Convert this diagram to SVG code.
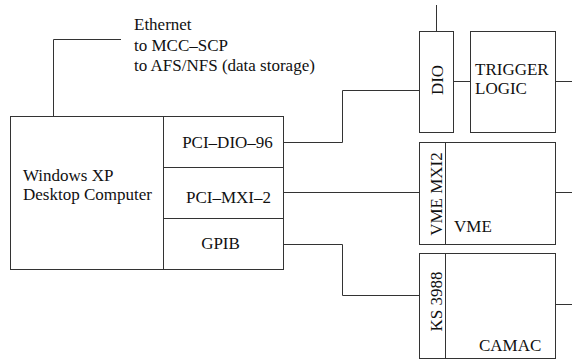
<svg xmlns="http://www.w3.org/2000/svg" width="572" height="363" viewBox="0 0 572 363">
<style>
.box{fill:#fff;stroke:#333;stroke-width:1}
.ln{fill:none;stroke:#333;stroke-width:1}
text{font-family:"Liberation Serif","Times New Roman",serif;font-size:17px;fill:#111}
</style>
<rect width="572" height="363" fill="#fff"/>
<g id="connectors">
<path class="ln" d="M53.5 116.5V39.5H121"/>
<path class="ln" d="M283.5 142.5H342.5V90.5H419.5"/>
<path class="ln" d="M283.5 192.5H419.5"/>
<path class="ln" d="M283.5 244.5H342.5V295.5H419.5"/>
<path class="ln" d="M436.5 5V31.5"/>
<path class="ln" d="M453.5 81.5H470.5"/>
<path class="ln" d="M555.5 81.5H572"/>
<path class="ln" d="M555.5 192.5H572"/>
<path class="ln" d="M555.5 304.5H572"/>
</g>
<g id="ethernet">
<text x="134" y="30">Ethernet</text>
<text x="134" y="50.5">to MCC–SCP</text>
<text x="134" y="71">to AFS/NFS (data storage)</text>
</g>
<g id="computer">
<rect class="box" x="10.5" y="116.5" width="273" height="153"/>
<path class="ln" d="M163.5 116.5V269.5M163.5 167.5H283.5M163.5 218.5H283.5"/>
<text x="23" y="181">Windows XP</text>
<text x="23" y="199.5">Desktop Computer</text>
</g>
<g id="pci-dio-96"><text x="227.5" y="147.5" text-anchor="middle">PCI–DIO–96</text></g>
<g id="pci-mxi-2"><text x="228.5" y="202.5" text-anchor="middle">PCI–MXI–2</text></g>
<g id="gpib"><text x="220.5" y="248.5" text-anchor="middle">GPIB</text></g>
<g id="dio">
<rect class="box" x="419.5" y="31.5" width="34" height="101"/>
<text transform="translate(442.5 80) rotate(-90)" text-anchor="middle">DIO</text>
</g>
<g id="trigger">
<rect class="box" x="470.5" y="31.5" width="85" height="101"/>
<text x="475" y="75">TRIGGER</text>
<text x="475" y="94.3">LOGIC</text>
</g>
<g id="vme">
<rect class="box" x="419.5" y="142.5" width="136" height="102"/>
<path class="ln" d="M445.5 142.5V244.5"/>
<text transform="translate(441.7 194) rotate(-90)" text-anchor="middle">VME MXI2</text>
<text x="454" y="231.7">VME</text>
</g>
<g id="camac">
<rect class="box" x="419.5" y="253.5" width="136" height="105"/>
<path class="ln" d="M445.5 253.5V358.5"/>
<text transform="translate(441.7 301.5) rotate(-90)" text-anchor="middle">KS 3988</text>
<text x="479" y="350.7">CAMAC</text>
</g>
</svg>
